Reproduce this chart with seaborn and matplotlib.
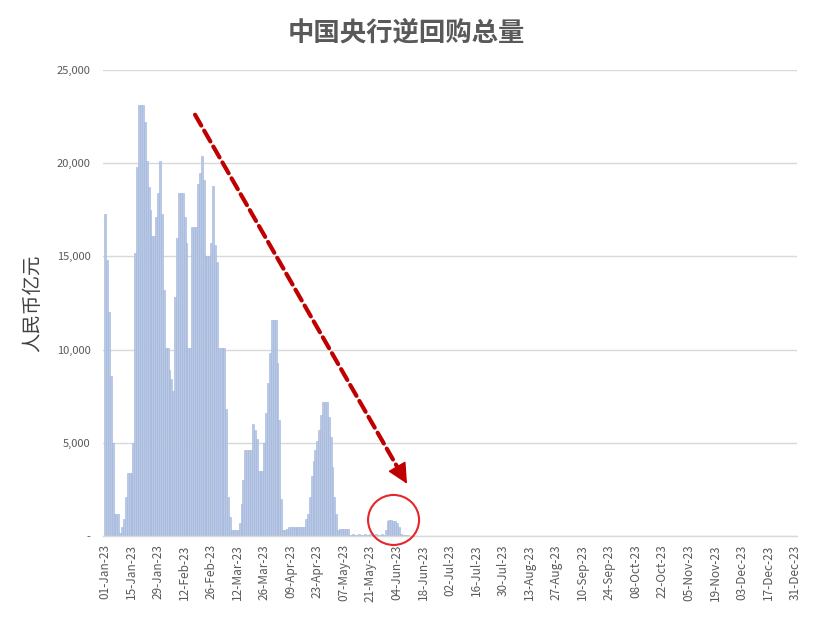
import numpy as np
import pandas as pd
import matplotlib
matplotlib.use("Agg")
import matplotlib.pyplot as plt
from matplotlib.patches import Ellipse
import seaborn as sns

# ---------------- data ----------------
start_date = "2023-01-01"
# daily reverse-repo outstanding, 亿元, from 01-Jan-23 onward
repo_values = [
    17300, 14800, 12000, 8600, 5000, 1200, 1200, 1200, 150, 500,
    900, 2100, 3400, 3400, 3400, 5000, 15200, 19800, 23100, 23100,
    23100, 22200, 20100, 18700, 17500, 16100, 16100, 17100, 18400, 20100,
    17300, 13200, 10100, 10100, 8900, 8400, 7800, 12800, 16000, 18400,
    18400, 18400, 17100, 15700, 10100, 10100, 16600, 16600, 16600, 18900,
    19500, 20400, 19100, 15000, 15000, 15000, 15700, 18800, 15600, 14700,
    10100, 10100, 10100, 10100, 6800, 2100, 1000, 300, 300, 300,
    300, 700, 1700, 3000, 4600, 4600, 4600, 4600, 6000, 5700,
    5200, 3500, 3500, 3500, 5000, 6600, 8200, 9800, 11600, 11600,
    11600, 9300, 6200, 2000, 300, 300, 400, 500, 500, 500,
    500, 500, 500, 500, 500, 500, 900, 1200, 2100, 3200,
    4000, 4600, 5100, 5700, 6500, 7200, 7200, 7200, 6400, 5300,
    3700, 2100, 1200, 300, 400, 400, 400, 400, 400, 80,
    60, 100, 80, 50, 120, 80, 60, 100, 80, 50,
    120, 80, 60, 100, 80, 50, 120, 80, 300, 800,
    850, 850, 800, 800, 700, 500, 100, 50, 50, 50,
    50,
]
tick_labels = [
    "01-Jan-23", "15-Jan-23", "29-Jan-23", "12-Feb-23", "26-Feb-23",
    "12-Mar-23", "26-Mar-23", "09-Apr-23", "23-Apr-23", "07-May-23",
    "21-May-23", "04-Jun-23", "18-Jun-23", "02-Jul-23", "16-Jul-23",
    "30-Jul-23", "13-Aug-23", "27-Aug-23", "10-Sep-23", "24-Sep-23",
    "08-Oct-23", "22-Oct-23", "05-Nov-23", "19-Nov-23", "03-Dec-23",
    "17-Dec-23", "31-Dec-23",
]
y_ticks = [0, 5000, 10000, 15000, 20000, 25000]
y_tick_labels = ["-", "5,000", "10,000", "15,000", "20,000", "25,000"]
title = "中国央行逆回购总量"
ylabel = "人民币亿元"

# ---------------- frame ----------------
dates = pd.date_range(start_date, periods=len(repo_values), freq="D")
t0 = pd.Timestamp(start_date)
df = pd.DataFrame({"day": (dates - t0).days, "value": repo_values})
tick_days = [(pd.to_datetime(s, format="%d-%b-%y") - t0).days for s in tick_labels]

sns.set_theme(style="white")
plt.rcParams["font.family"] = ["Noto Sans CJK SC", "DejaVu Sans"]

fig = plt.figure(figsize=(8.3, 6.2), dpi=100)
W, H = 830, 620
L, R, T, B = 103.1, 797.0, 70, 536
ax = fig.add_axes([L / W, 1 - B / H, (R - L) / W, (B - T) / H])

sns.barplot(data=df, x="day", y="value", native_scale=True, width=1.0,
            color="#B4C7E7", edgecolor="#9DB4E0", linewidth=0.4,
            errorbar=None, ax=ax, zorder=2)

ax.set_xlim(-1, 365)
ax.set_ylim(0, 25000)
ax.set_yticks(y_ticks)
ax.set_yticklabels(y_tick_labels)
ax.set_xticks(tick_days)
ax.set_xticklabels(tick_labels, rotation=90)
ax.tick_params(axis="both", length=0, colors="#595959", labelsize=8.5)
ax.tick_params(axis="y", pad=9, labelsize=8)
ax.tick_params(axis="x", pad=6)
ax.set_xlabel("")
ax.set_ylabel(ylabel, fontsize=14, color="#404040", labelpad=10)

ax.grid(axis="y", color="#D9D9D9", linewidth=1.0, zorder=0)
ax.grid(axis="x", visible=False)
ax.set_axisbelow(True)
for s in ["top", "right", "left"]:
    ax.spines[s].set_visible(False)
ax.spines["bottom"].set_color("#D9D9D9")
ax.spines["bottom"].set_linewidth(1.0)

# dashed red arrow: shaft (dashed) + solid head
arrow_start = (47.5, 22600)
arrow_tip = (159.3, 2800)
head_base = (155.6, 3450)
ax.annotate("", xy=head_base, xytext=arrow_start,
            arrowprops=dict(arrowstyle="-", color="#C00000", lw=3.0,
                            linestyle=(0, (3, 1.4)), shrinkA=0, shrinkB=0),
            zorder=5)
ax.annotate("", xy=arrow_tip, xytext=head_base,
            arrowprops=dict(arrowstyle="-|>,head_length=0.65,head_width=0.32",
                            color="#C00000", lw=1, mutation_scale=20,
                            shrinkA=0, shrinkB=0),
            zorder=5)

# red circle around latest bars
ax.add_patch(Ellipse((152.2, 860), width=26.9, height=2682, fill=False,
                     edgecolor="#E8262A", linewidth=1.5, clip_on=False, zorder=6))

fig.text(0.49, 0.947, title, ha="center", va="center", fontsize=19,
         fontweight="bold", color="#595959")

fig.savefig("out.png", dpi=100)
